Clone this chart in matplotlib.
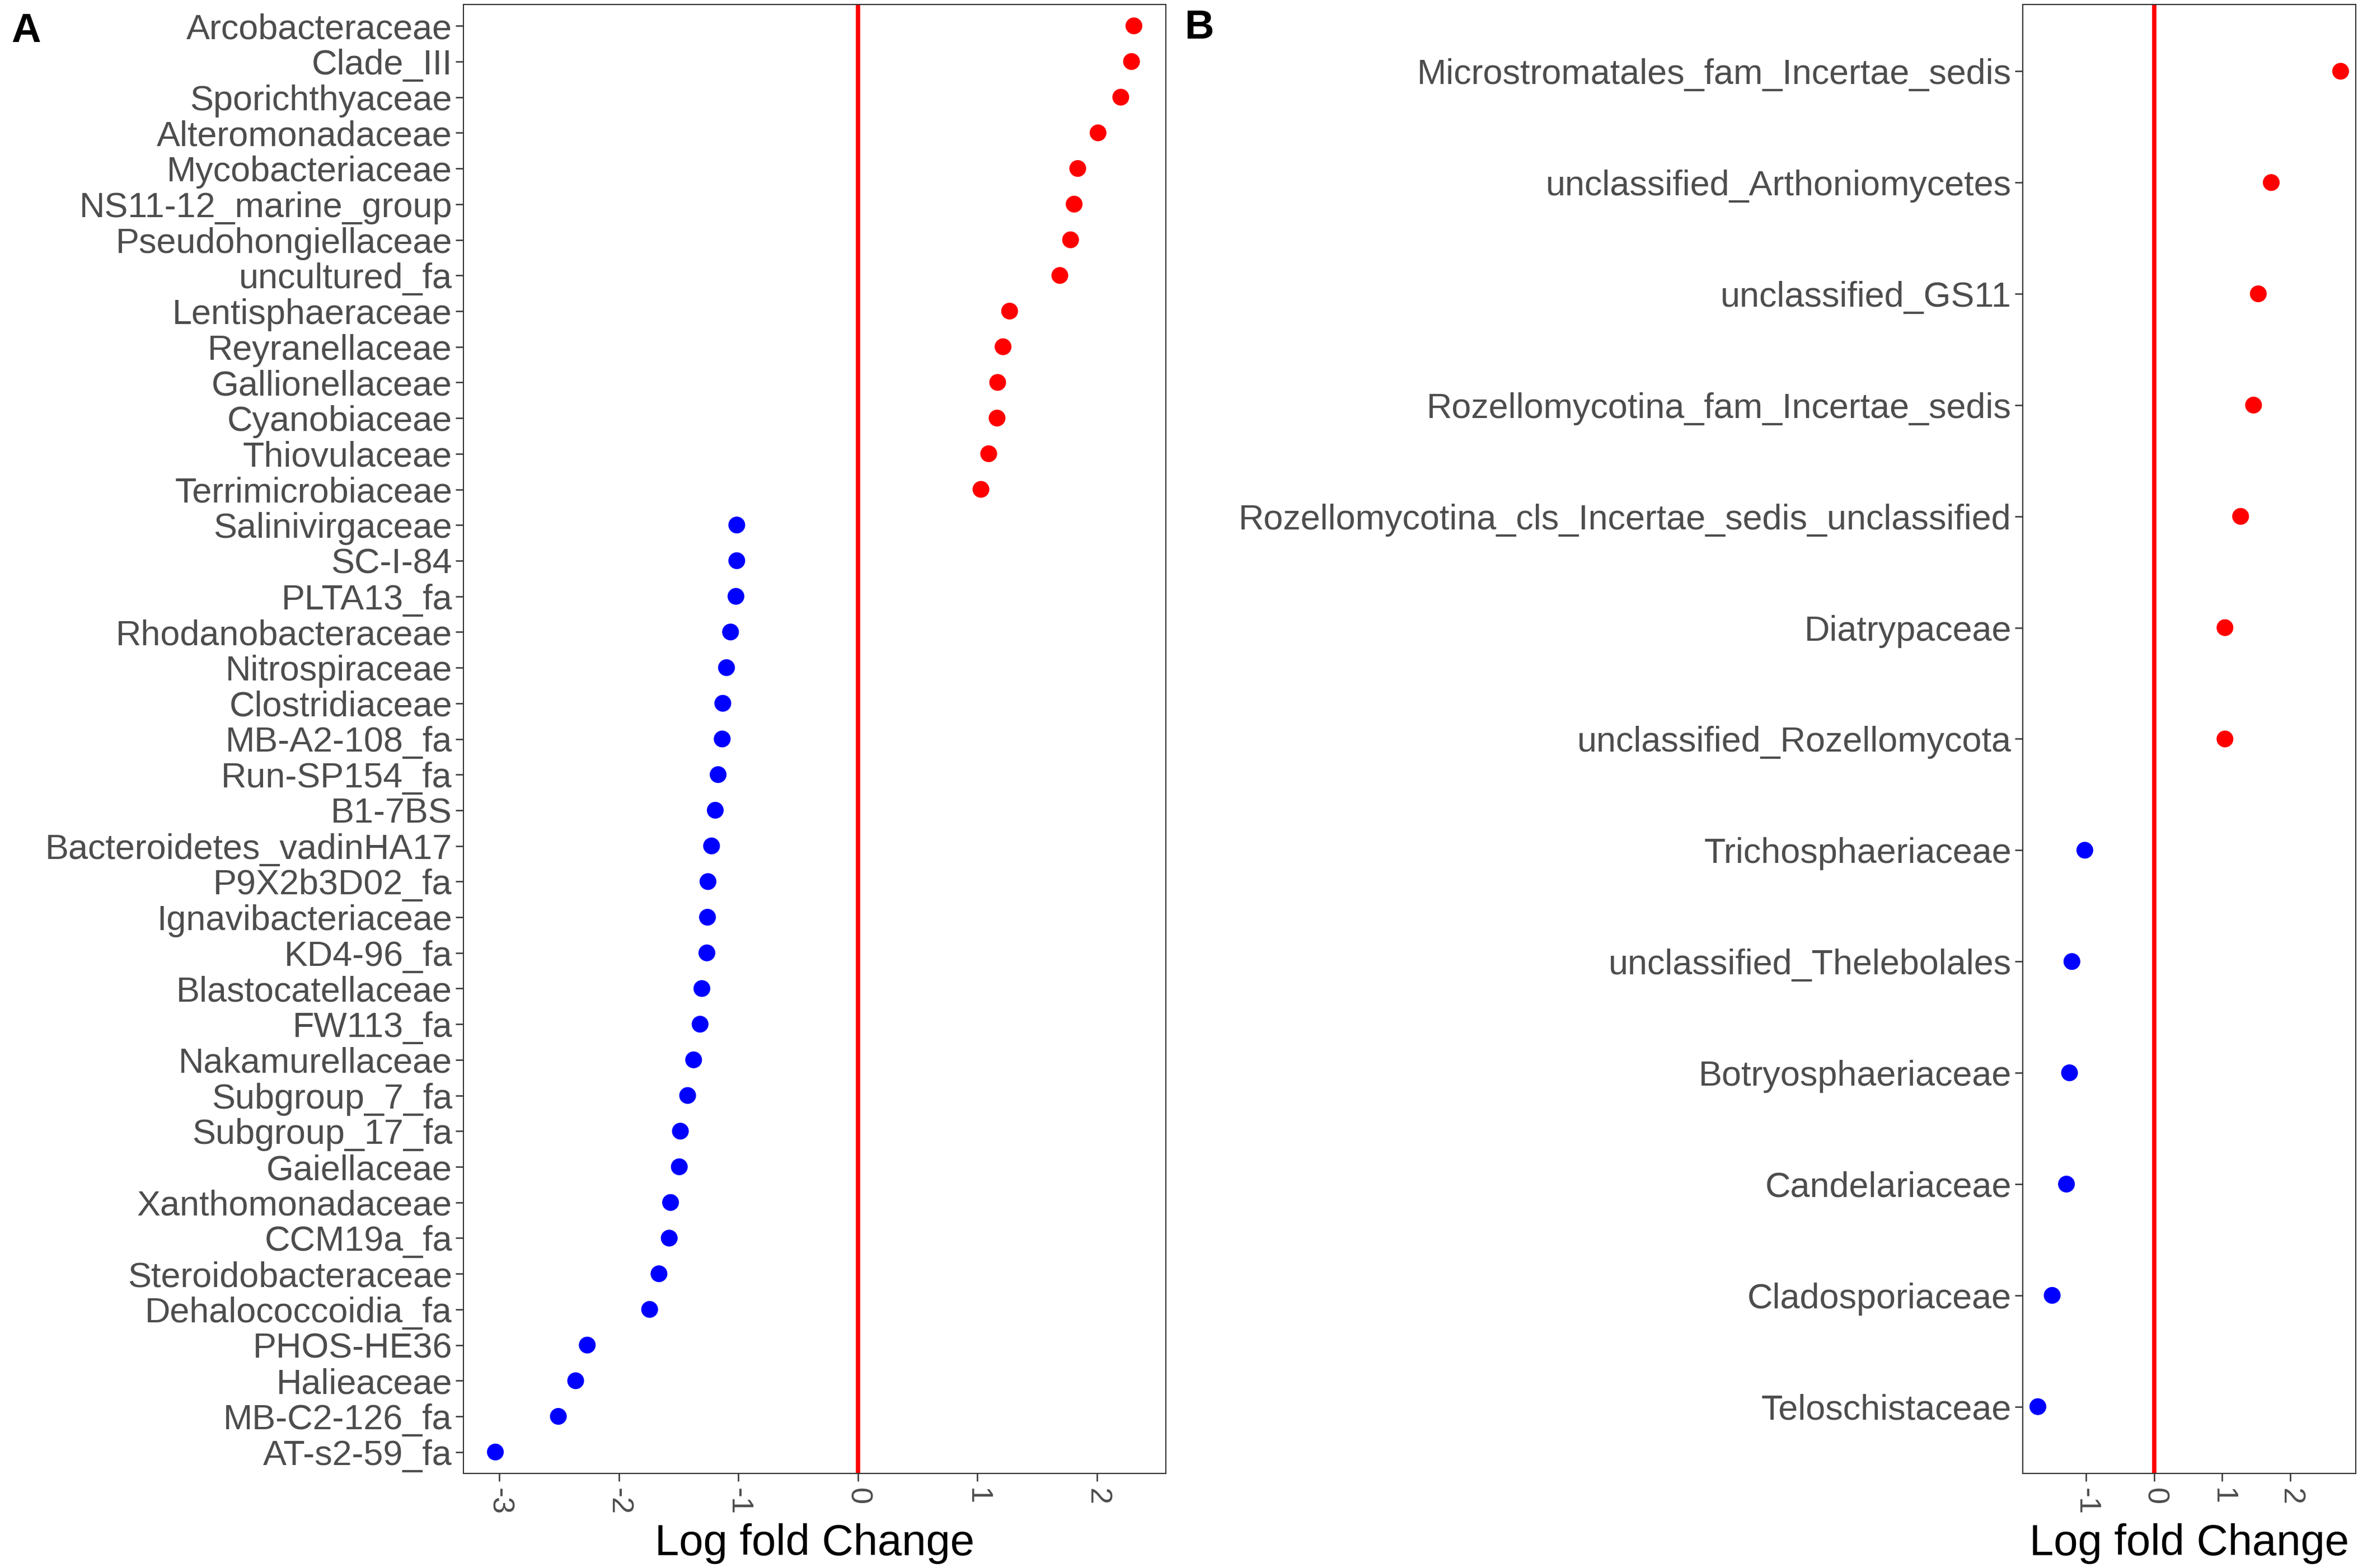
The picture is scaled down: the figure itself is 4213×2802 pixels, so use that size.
import numpy as np
import matplotlib
matplotlib.use("Agg")
import matplotlib.pyplot as plt

plt.rcParams['font.family'] = ['Liberation Sans', 'DejaVu Sans']
plt.rcParams['axes.unicode_minus'] = False

# panel A: bacterial families (top to bottom)
fam_a = ["Arcobacteraceae", "Clade_III", "Sporichthyaceae", "Alteromonadaceae",
         "Mycobacteriaceae", "NS11-12_marine_group", "Pseudohongiellaceae",
         "uncultured_fa", "Lentisphaeraceae", "Reyranellaceae", "Gallionellaceae",
         "Cyanobiaceae", "Thiovulaceae", "Terrimicrobiaceae", "Salinivirgaceae",
         "SC-I-84", "PLTA13_fa", "Rhodanobacteraceae", "Nitrospiraceae",
         "Clostridiaceae", "MB-A2-108_fa", "Run-SP154_fa", "B1-7BS",
         "Bacteroidetes_vadinHA17", "P9X2b3D02_fa", "Ignavibacteriaceae",
         "KD4-96_fa", "Blastocatellaceae", "FW113_fa", "Nakamurellaceae",
         "Subgroup_7_fa", "Subgroup_17_fa", "Gaiellaceae", "Xanthomonadaceae",
         "CCM19a_fa", "Steroidobacteraceae", "Dehalococcoidia_fa", "PHOS-HE36",
         "Halieaceae", "MB-C2-126_fa", "AT-s2-59_fa"]
lfc_a = [2.31, 2.29, 2.20, 2.01, 1.84, 1.81, 1.78, 1.69, 1.27, 1.215, 1.17,
         1.165, 1.095, 1.03, -1.013, -1.013, -1.02, -1.065, -1.099, -1.13,
         -1.135, -1.169, -1.193, -1.224, -1.254, -1.258, -1.263, -1.305, -1.32,
         -1.374, -1.424, -1.485, -1.494, -1.567, -1.578, -1.664, -1.742, -2.264,
         -2.361, -2.506, -3.033]

# panel B: fungal families (top to bottom)
fam_b = ["Microstromatales_fam_Incertae_sedis", "unclassified_Arthoniomycetes",
         "unclassified_GS11", "Rozellomycotina_fam_Incertae_sedis",
         "Rozellomycotina_cls_Incertae_sedis_unclassified", "Diatrypaceae",
         "unclassified_Rozellomycota", "Trichosphaeriaceae",
         "unclassified_Thelebolales", "Botryosphaeriaceae", "Candelariaceae",
         "Cladosporiaceae", "Teloschistaceae"]
lfc_b = [2.74, 1.72, 1.53, 1.46, 1.27, 1.04, 1.04, -1.02, -1.21, -1.245,
         -1.29, -1.50, -1.71]

ticks_a = [-3, -2, -1, 0, 1, 2]
ticks_b = [-1, 0, 1, 2]

W, H = 4213, 2802
fig = plt.figure(figsize=(W / 300, H / 300), dpi=300)


def dot_panel(rect, names, vals, ticks):
    ax = fig.add_axes(rect)
    vals = np.array(vals)
    n = len(names)
    ypos = np.arange(n)[::-1]
    cols = np.where(vals > 0, "#FF0000", "#0000FF")
    ax.axvline(0, color="#FF0000", lw=1.85, zorder=1)
    ax.scatter(vals, ypos, s=52, c=cols, edgecolors="none", zorder=3)
    span = vals.max() - vals.min()
    ax.set_xlim(vals.min() - 0.05 * span, vals.max() + 0.05 * span)
    ax.set_ylim(-0.6, n - 1 + 0.6)
    ax.set_yticks(ypos)
    ax.set_yticklabels(names)
    ax.set_xticks(ticks)
    ax.set_xticklabels([str(t) for t in ticks])
    ax.tick_params(axis="y", labelsize=15.1, labelcolor="#4D4D4D",
                   color="#333333", length=3.3, width=0.6, pad=1.5)
    ax.tick_params(axis="x", labelsize=13, labelcolor="#4D4D4D",
                   color="#333333", length=3.3, width=0.6, pad=3,
                   labelrotation=-90)
    for s in ax.spines.values():
        s.set_color("#333333")
        s.set_linewidth(0.5)
    ax.set_xlabel("Log fold Change", fontsize=18.7, color="black", labelpad=3.5)
    return ax


bottom = (H - 2633) / H
height = (2633 - 8) / H
ax_a = dot_panel([828 / W, bottom, (2083 - 828) / W, height], fam_a, lfc_a, ticks_a)
ax_b = dot_panel([3614 / W, bottom, (4209 - 3614) / W, height], fam_b, lfc_b, ticks_b)

fig.text(20 / W, 1 - 22 / H, "A", fontsize=17.5, fontweight="bold", ha="left", va="top")
fig.text(2116 / W, 1 - 16 / H, "B", fontsize=17.5, fontweight="bold", ha="left", va="top")

fig.savefig("out.png", dpi=300, facecolor="white")
